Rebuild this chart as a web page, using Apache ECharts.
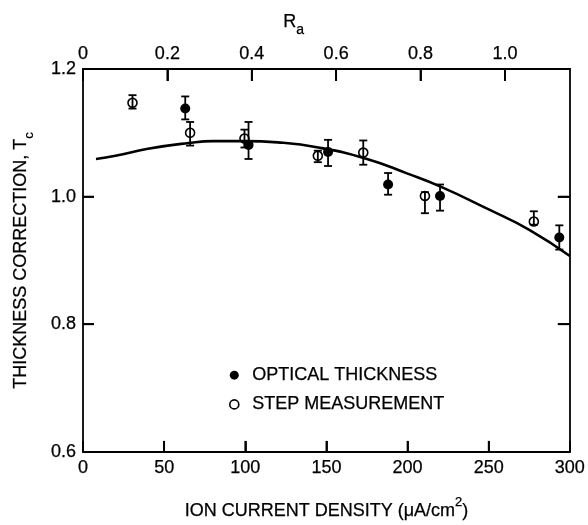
<!DOCTYPE html>
<html>
<head>
<meta charset="utf-8">
<script src="https://cdn.jsdelivr.net/npm/echarts@6/dist/echarts.min.js"></script>
<style>
html,body{margin:0;padding:0;background:#fff;}
#chart{width:588px;height:525px;}
</style>
</head>
<body>
<div id="chart"></div>
<script>
// ---- data ----
const opticalX    = [63,    102,   151,   188,   220,   293.5];
const opticalY    = [1.138, 1.081, 1.070, 1.019, 1.001, 0.936];
const opticalLow  = [1.121, 1.059, 1.048, 1.003, 0.978, 0.917];
const opticalHigh = [1.157, 1.117, 1.089, 1.037, 1.019, 0.955];

const stepX    = [30.5,  66,    99.5,  144.7, 172.7, 210.7, 277.8];
const stepY    = [1.147, 1.100, 1.091, 1.064, 1.069, 1.001, 0.961];
const stepLow  = [1.138, 1.080, 1.077, 1.054, 1.050, 0.974, 0.956];
const stepHigh = [1.159, 1.117, 1.105, 1.072, 1.088, 1.007, 0.977];

const fitX = [8, 20, 40, 65, 80, 100, 120, 145, 175, 200, 220, 250, 275, 300];
const fitY = [1.059, 1.064, 1.075, 1.084, 1.087, 1.087, 1.085, 1.077, 1.059, 1.036, 1.016, 0.980, 0.948, 0.907];

const bottomTicks = [0, 50, 100, 150, 200, 250, 300];
const topTicks = [0, 0.2, 0.4, 0.6, 0.8, 1.0];
const leftTicks = [0.6, 0.8, 1.0, 1.2];

const seriesNames = ['OPTICAL THICKNESS', 'STEP MEASUREMENT'];
const xTitle = 'ION CURRENT DENSITY (\u03BCA/cm';
const yTitle = 'THICKNESS CORRECTION, T';
const topTitle = 'R';

// ---- build ----
const FONT = "'Liberation Sans', Arial, Helvetica, sans-serif";
const ink = '#000';
const heavy = { textBorderColor: ink, textBorderWidth: 0.25 };
const X_MIN = bottomTicks[0], X_MAX = bottomTicks[bottomTicks.length - 1];
const Y_MIN = leftTicks[0], Y_MAX = leftTicks[leftTicks.length - 1];

function zipPts(xs, ys) { return xs.map((x, i) => [x, ys[i]]); }
function zipErr(xs, lo, hi) { return xs.map((x, i) => [x, lo[i], hi[i]]); }

function errRender(params, api) {
  const x = api.value(0);
  const lo = api.coord([x, api.value(1)]);
  const hi = api.coord([x, api.value(2)]);
  const cap = 4;
  const st = { stroke: ink, lineWidth: 1.8 };
  return {
    type: 'group',
    children: [
      { type: 'line', shape: { x1: lo[0], y1: lo[1], x2: hi[0], y2: hi[1] }, style: st },
      { type: 'line', shape: { x1: lo[0] - cap, y1: lo[1], x2: lo[0] + cap, y2: lo[1] }, style: st },
      { type: 'line', shape: { x1: hi[0] - cap, y1: hi[1], x2: hi[0] + cap, y2: hi[1] }, style: st }
    ]
  };
}

const tickStyle = { stroke: ink, lineWidth: 1.8 };
// inward tick marks, positioned through the axes' own scales
function bottomTickRender(params, api) {
  const p = api.coord([api.value(0), api.value(1)]);
  return { type: 'line', shape: { x1: p[0], y1: p[1], x2: p[0], y2: p[1] - 11 }, style: tickStyle };
}
function topTickRender(params, api) {
  const p = api.coord([api.value(0), api.value(1)]);
  return { type: 'line', shape: { x1: p[0], y1: p[1], x2: p[0], y2: p[1] + 12 }, style: tickStyle };
}
function sideTickRender(params, api) {
  const l = api.coord([api.value(0), api.value(1)]);
  const r = api.coord([X_MAX, api.value(1)]);
  return {
    type: 'group',
    children: [
      { type: 'line', shape: { x1: l[0], y1: l[1], x2: l[0] + 11, y2: l[1] }, style: tickStyle },
      { type: 'line', shape: { x1: r[0], y1: r[1], x2: r[0] - 12, y2: r[1] }, style: tickStyle }
    ]
  };
}

function axisLine(w) { return { show: true, onZero: false, lineStyle: { color: ink, width: w } }; }
function tick(len) { return { show: true, inside: true, length: len, lineStyle: { color: ink, width: 1.8 } }; }
const labelStyle = Object.assign({ color: ink, fontSize: 18, fontFamily: FONT }, heavy);

const chart = echarts.init(document.getElementById('chart'));
chart.setOption({
  animation: false,
  backgroundColor: '#fff',
  textStyle: { fontFamily: FONT },
  grid: { left: 83, right: 13, top: 69, bottom: 69, containLabel: false },
  graphic: [
    { type: 'text', left: 283, top: 13, style: { text: topTitle, fontSize: 18, fontFamily: FONT, fill: ink, stroke: ink, lineWidth: 0.25 } },
    { type: 'text', left: 296, top: 23, style: { text: 'a', fontSize: 14, fontFamily: FONT, fill: ink, stroke: ink, lineWidth: 0.25 } }
  ],
  legend: {
    orient: 'vertical',
    left: 229,
    top: 366,
    padding: 0,
    itemGap: 11,
    itemWidth: 26,
    itemHeight: 9,
    icon: 'circle',
    textStyle: Object.assign({ fontSize: 18, color: ink, fontFamily: FONT }, heavy),
    data: [
      { name: seriesNames[0], itemStyle: { color: ink, borderWidth: 0 } },
      { name: seriesNames[1], itemStyle: { color: '#fff', borderColor: ink, borderWidth: 1.6 } }
    ]
  },
  xAxis: [
    {
      type: 'value', position: 'bottom', min: X_MIN, max: X_MAX, interval: 50,
      axisLine: axisLine(1.8),
      axisTick: tick(11),
      axisLabel: Object.assign({ margin: 7, formatter: v => String(v) }, labelStyle),
      splitLine: { show: false },
      name: '{t|' + xTitle + '}{sup|2}{t|)}',
      nameLocation: 'middle',
      nameGap: 44,
      nameTextStyle: {
        rich: {
          t: Object.assign({ fontSize: 18, fontFamily: FONT, color: ink, lineHeight: 24, verticalAlign: 'bottom' }, heavy),
          sup: Object.assign({ fontSize: 13, fontFamily: FONT, color: ink, lineHeight: 24, verticalAlign: 'top' }, heavy)
        }
      }
    },
    {
      type: 'value', position: 'top', min: 0, max: 1.154, interval: 0.2,
      axisLine: axisLine(2.2),
      axisTick: tick(12),
      axisLabel: Object.assign({ margin: 6, showMaxLabel: false, formatter: v => (v === 0 ? '0' : v.toFixed(1)) }, labelStyle),
      splitLine: { show: false }
    }
  ],
  yAxis: [
    {
      type: 'value', position: 'left', min: Y_MIN, max: Y_MAX, interval: 0.2,
      axisLine: axisLine(1.8),
      axisTick: tick(11),
      axisLabel: Object.assign({ margin: 7, formatter: v => v.toFixed(1) }, labelStyle),
      splitLine: { show: false },
      name: '{t|' + yTitle + '}{sub|c}',
      nameLocation: 'middle',
      nameRotate: 90,
      nameGap: 47,
      nameTextStyle: {
        rich: {
          t: Object.assign({ fontSize: 18, fontFamily: FONT, color: ink, lineHeight: 24, verticalAlign: 'top' }, heavy),
          sub: Object.assign({ fontSize: 13, fontFamily: FONT, color: ink, lineHeight: 24, verticalAlign: 'bottom' }, heavy)
        }
      }
    },
    {
      type: 'value', position: 'right', min: Y_MIN, max: Y_MAX, interval: 0.2,
      axisLine: axisLine(1.8),
      axisTick: tick(12),
      axisLabel: { show: false },
      splitLine: { show: false }
    }
  ],
  series: [
    {
      type: 'custom', name: 'bottomTicks', data: bottomTicks.slice(1, -1).map(v => [v, Y_MIN]),
      renderItem: bottomTickRender, encode: { x: 0, y: 1 }, clip: false, z: 5, silent: true
    },
    {
      type: 'custom', name: 'topTicks', xAxisIndex: 1, data: topTicks.slice(1).map(v => [v, Y_MAX]),
      renderItem: topTickRender, encode: { x: 0, y: 1 }, clip: false, z: 5, silent: true
    },
    {
      type: 'custom', name: 'sideTicks', data: leftTicks.slice(1, -1).map(v => [X_MIN, v]),
      renderItem: sideTickRender, encode: { x: 0, y: 1 }, clip: false, z: 5, silent: true
    },
    {
      type: 'line', name: 'fit', data: zipPts(fitX, fitY), smooth: 0.5, symbol: 'none',
      lineStyle: { color: ink, width: 2.6 }, z: 2, silent: true
    },
    {
      type: 'custom', name: 'optErr', data: zipErr(opticalX, opticalLow, opticalHigh),
      renderItem: errRender, encode: { x: 0, y: [1, 2] }, z: 3, silent: true
    },
    {
      type: 'custom', name: 'stepErr', data: zipErr(stepX, stepLow, stepHigh),
      renderItem: errRender, encode: { x: 0, y: [1, 2] }, z: 3, silent: true
    },
    {
      type: 'scatter', name: seriesNames[0], data: zipPts(opticalX, opticalY),
      symbol: 'circle', symbolSize: 10, itemStyle: { color: ink, opacity: 1 }, z: 4
    },
    {
      type: 'scatter', name: seriesNames[1], data: zipPts(stepX, stepY),
      symbol: 'circle', symbolSize: 9,
      itemStyle: { color: 'rgba(255,255,255,0)', borderColor: ink, borderWidth: 1.6, opacity: 1 }, z: 4
    }
  ]
});
</script>
</body>
</html>
